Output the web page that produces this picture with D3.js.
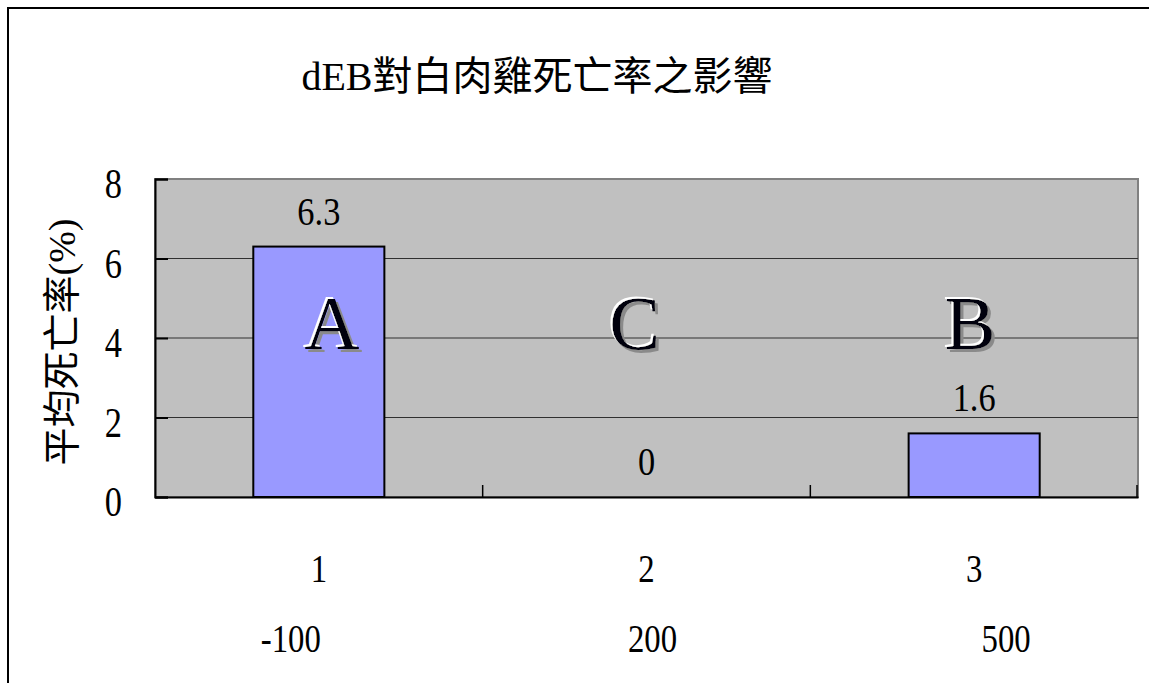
<!DOCTYPE html>
<html><head><meta charset="utf-8">
<script src="https://cdn.jsdelivr.net/npm/d3@7"></script>
<style>
html,body{margin:0;padding:0;background:#fff;}
svg{display:block;}
text{font-family:"Liberation Serif","Times New Roman","Noto Sans CJK TC",serif;}
</style></head>
<body>
<script>
const title = "dEB對白肉雞死亡率之影響";
const yTitle = "平均死亡率(%)";
const categories = ["1", "2", "3"];
const doses = ["-100", "200", "500"];
const values = [6.3, 0, 1.6];
const groupLetters = ["A", "C", "B"];
const yTicks = [0, 2, 4, 6, 8];

const W = 1149, H = 683;
const svg = d3.select("body").append("svg").attr("width", W).attr("height", H);

// emboss filter: grey shadow lower-right, white highlight upper-left
const defs = svg.append("defs");
const f = defs.append("filter").attr("id", "emboss")
  .attr("x", "-20%").attr("y", "-20%").attr("width", "140%").attr("height", "140%");
f.append("feOffset").attr("in", "SourceAlpha").attr("dx", 3).attr("dy", 3).attr("result", "o1");
f.append("feFlood").attr("flood-color", "#8a8a8a").attr("result", "c1");
f.append("feComposite").attr("in", "c1").attr("in2", "o1").attr("operator", "in").attr("result", "sh");
f.append("feOffset").attr("in", "SourceAlpha").attr("dx", -2).attr("dy", -2).attr("result", "o2");
f.append("feFlood").attr("flood-color", "#ffffff").attr("result", "c2");
f.append("feComposite").attr("in", "c2").attr("in2", "o2").attr("operator", "in").attr("result", "hl");
const m = f.append("feMerge");
m.append("feMergeNode").attr("in", "sh");
m.append("feMergeNode").attr("in", "hl");
m.append("feMergeNode").attr("in", "SourceGraphic");

// outer chart border (extends beyond window right/bottom)
svg.append("rect").attr("x", 8).attr("y", 8).attr("width", W + 20).attr("height", H + 20)
  .attr("fill", "#fff").attr("stroke", "#000").attr("stroke-width", 2);

const plot = {left: 155, right: 1138, top: 179, bottom: 497};
const x = d3.scaleBand().domain(categories).range([plot.left, plot.right]).padding(0);
const y = d3.scaleLinear().domain([0, 8]).range([plot.bottom, plot.top]);

// title
svg.append("text").attr("x", 537).attr("y", 90).attr("text-anchor", "middle")
  .attr("font-size", 40).attr("fill", "#000").text(title);

// plot area
svg.append("rect").attr("x", plot.left).attr("y", plot.top)
  .attr("width", plot.right - plot.left).attr("height", plot.bottom - plot.top)
  .attr("fill", "#c0c0c0").attr("stroke", "#808080").attr("stroke-width", 2);

// gridlines
svg.append("g").selectAll("line").data(yTicks.filter(t => t > 0 && t < 8)).join("line")
  .attr("x1", plot.left).attr("x2", plot.right)
  .attr("y1", d => y(d)).attr("y2", d => y(d))
  .attr("stroke", "#303030").attr("stroke-width", 1);

// bars
const bw = x.bandwidth() * 0.4;
svg.append("g").selectAll("rect").data(values).join("rect")
  .attr("x", (d, i) => x(categories[i]) + (x.bandwidth() - bw) / 2)
  .attr("y", d => y(d))
  .attr("width", bw)
  .attr("height", d => y(0) - y(d))
  .attr("fill", "#9999ff").attr("stroke", "#000").attr("stroke-width", 2)
  .attr("display", d => d > 0 ? null : "none");

// y axis
const yAxis = svg.append("g").attr("transform", `translate(${plot.left},0)`)
  .call(d3.axisLeft(y).tickValues(yTicks).tickSize(-13).tickPadding(0).tickFormat(d3.format("d")));
yAxis.select(".domain").attr("stroke", "#000").attr("stroke-width", 2);
yAxis.selectAll(".tick line").attr("stroke", "#000").attr("stroke-width", 2);
yAxis.selectAll(".tick text").remove();
svg.append("g").selectAll("text").data(yTicks).join("text")
  .attr("transform", d => `translate(122,${y(d) + 19}) scale(0.82,1)`)
  .attr("text-anchor", "end").attr("font-size", 42).attr("fill", "#000")
  .text(d => d);

// x axis
const xAxis = svg.append("g").attr("transform", `translate(0,${plot.bottom})`)
  .call(d3.axisBottom(x).tickSize(0).tickFormat(""));
xAxis.select(".domain").attr("stroke", "#000").attr("stroke-width", 2);
const boundaries = categories.slice(1).map(c => x(c)).concat([plot.right - 1]);
svg.append("g").selectAll("line").data(boundaries).join("line")
  .attr("x1", d => d).attr("x2", d => d)
  .attr("y1", plot.bottom - 12).attr("y2", plot.bottom)
  .attr("stroke", "#000").attr("stroke-width", 1.5);

// category labels
const cx = c => x(c) + x.bandwidth() / 2;
svg.append("g").selectAll("text").data(categories).join("text")
  .attr("transform", d => `translate(${cx(d)},582) scale(0.82,1)`)
  .attr("text-anchor", "middle").attr("font-size", 40).attr("fill", "#000")
  .text(d => d);

const doseShift = [-28, 6, 32];
svg.append("g").selectAll("text").data(doses).join("text")
  .attr("transform", (d, i) => `translate(${cx(categories[i]) + doseShift[i]},652) scale(0.82,1)`)
  .attr("text-anchor", "middle").attr("font-size", 40).attr("fill", "#000")
  .text(d => d);

// data labels
svg.append("g").selectAll("text").data(values).join("text")
  .attr("transform", (d, i) => `translate(${cx(categories[i])},${y(d) - 22}) scale(0.86,1)`)
  .attr("text-anchor", "middle").attr("font-size", 40).attr("fill", "#000")
  .text(d => d);

// group letters (embossed look)
const letterShift = [13, -12, -4];
svg.append("g").selectAll("text").data(groupLetters).join("text")
  .attr("x", (d, i) => cx(categories[i]) + letterShift[i])
  .attr("y", 349)
  .attr("text-anchor", "middle").attr("font-size", 76).attr("fill", "#000010")
  .attr("filter", "url(#emboss)")
  .text(d => d);

// y title
svg.append("text").attr("transform", "translate(75,342) rotate(-90)")
  .attr("text-anchor", "middle").attr("font-size", 38).attr("fill", "#000")
  .text(yTitle);
</script>
</body></html>
